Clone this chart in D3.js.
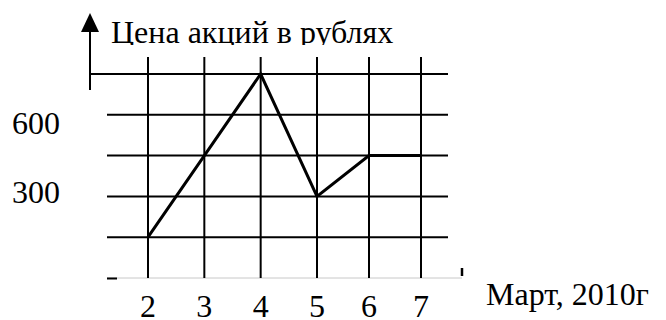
<!DOCTYPE html>
<html>
<head>
<meta charset="utf-8">
<script src="https://cdn.jsdelivr.net/npm/d3@7"></script>
<style>
    html, body { margin: 0; padding: 0; background: #fff; }
    svg text { font-family: "Liberation Serif", "Times New Roman", serif; fill: #000; }
</style>
</head>
<body>
<div id="chart"></div>
<script>
var months = [2, 3, 4, 5, 6, 7];
var prices = [150, 450, 750, 300, 450, 450];
var gridValues = [150, 300, 450, 600, 750];
var yTickLabels = [600, 300];
var yTitle = "Цена акций в рублях";
var xTitle = "Март, 2010г";

var chart = function(d3) {

    var width = 666;
    var height = 320;
    var fontSize = 32;

    var svg = d3.select("#chart").append("svg")
        .attr("width", width)
        .attr("height", height);

    // the x steps in the picture are not quite even, so a piecewise scale
    var x = d3.scaleLinear()
        .domain([2, 5, 7])
        .range([148, 317, 421]);

    var y = d3.scaleLinear()
        .domain([0, 750])
        .range([278, 74]);

    var gridLeft = 107;
    var gridRight = 448;
    var axisX = 90;

    // bottom baseline, thin grey
    svg.append("line")
        .attr("x1", gridLeft).attr("x2", 462)
        .attr("y1", y(0)).attr("y2", y(0))
        .attr("stroke", "#c8c8c8")
        .attr("stroke-width", 1);

    svg.append("line")
        .attr("x1", gridLeft).attr("x2", gridLeft + 10)
        .attr("y1", y(0) + 0.5).attr("y2", y(0) + 0.5)
        .attr("stroke", "#000")
        .attr("stroke-width", 2);

    svg.append("line")
        .attr("x1", 462).attr("x2", 462)
        .attr("y1", y(0) - 10).attr("y2", y(0) - 2)
        .attr("stroke", "#000")
        .attr("stroke-width", 2.5);

    // horizontal grid
    svg.selectAll(".h-grid")
        .data(gridValues)
        .enter()
        .append("line")
        .attr("class", "h-grid")
        .attr("x1", function(d) { return d === 750 ? axisX - 1 : gridLeft; })
        .attr("x2", gridRight)
        .attr("y1", function(d) { return y(d); })
        .attr("y2", function(d) { return y(d); })
        .attr("stroke", "#000")
        .attr("stroke-width", 2);

    // vertical grid
    svg.selectAll(".v-grid")
        .data(months)
        .enter()
        .append("line")
        .attr("class", "v-grid")
        .attr("x1", function(d) { return x(d); })
        .attr("x2", function(d) { return x(d); })
        .attr("y1", 57)
        .attr("y2", y(0))
        .attr("stroke", "#000")
        .attr("stroke-width", 2);

    // y axis stub with arrow
    svg.append("line")
        .attr("x1", axisX).attr("x2", axisX)
        .attr("y1", 30).attr("y2", 90)
        .attr("stroke", "#000")
        .attr("stroke-width", 2);

    svg.append("path")
        .attr("d", d3.line()([[axisX, 13], [axisX + 9, 32], [axisX - 9, 32]]) + "Z")
        .attr("fill", "#000");

    // price line
    var line = d3.line()
        .x(function(d, i) { return x(months[i]); })
        .y(function(d) { return y(d); });

    svg.append("path")
        .datum(prices)
        .attr("d", line)
        .attr("fill", "none")
        .attr("stroke", "#000")
        .attr("stroke-width", 3)
        .attr("stroke-linejoin", "miter");

    // y labels (they sit a bit off the grid in the original)
    var labelNudge = { 600: 19, 300: 7 };
    svg.selectAll(".y-label")
        .data(yTickLabels)
        .enter()
        .append("text")
        .attr("class", "y-label")
        .attr("x", 12)
        .attr("y", function(d) { return y(d) + labelNudge[d]; })
        .attr("font-size", fontSize)
        .text(function(d) { return d; });

    // x labels
    svg.selectAll(".x-label")
        .data(months)
        .enter()
        .append("text")
        .attr("class", "x-label")
        .attr("x", function(d) { return x(d); })
        .attr("y", 317)
        .attr("text-anchor", "middle")
        .attr("font-size", fontSize)
        .text(function(d) { return d; });

    svg.append("text")
        .attr("x", 486)
        .attr("y", 305)
        .attr("font-size", fontSize)
        .text(xTitle);

    // title: descenders are cut off in the picture
    svg.append("clipPath")
        .attr("id", "title-clip")
        .append("rect")
        .attr("x", 0).attr("y", 0)
        .attr("width", width).attr("height", 45);

    svg.append("text")
        .attr("x", 111)
        .attr("y", 43)
        .attr("font-size", fontSize)
        .attr("clip-path", "url(#title-clip)")
        .text(yTitle);

}(d3);
</script>
</body>
</html>
